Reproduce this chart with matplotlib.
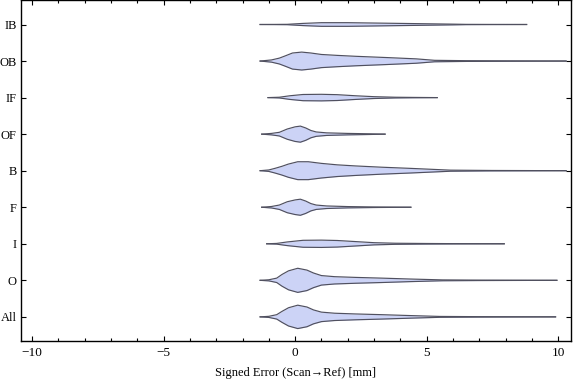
import numpy as np
import matplotlib
matplotlib.use("Agg")
import matplotlib.pyplot as plt
from matplotlib.ticker import MultipleLocator

plt.rcParams['font.family'] = ['Liberation Serif', 'DejaVu Serif']

# categories, bottom to top
categories = ['All', 'O', 'I', 'F', 'B', 'OF', 'IF', 'OB', 'IB']

# violin profiles: x position [mm] and half width (in category units)
all_x = [-1.33, -1.0, -0.7, -0.5, -0.25, 0.1, 0.45, 0.7, 1.0, 1.5, 2.3, 3.3, 4.4, 5.5, 7.0, 9.9]
all_w = [0.0, 0.015, 0.06, 0.15, 0.25, 0.32, 0.27, 0.19, 0.13, 0.1, 0.08, 0.06, 0.035, 0.012, 0.006, 0.0]

o_x = [-1.33, -1.0, -0.7, -0.5, -0.25, 0.1, 0.45, 0.7, 1.0, 1.5, 2.3, 3.3, 4.4, 5.6, 7.0, 9.95]
o_w = [0.0, 0.015, 0.06, 0.16, 0.26, 0.33, 0.28, 0.2, 0.13, 0.1, 0.08, 0.06, 0.035, 0.012, 0.006, 0.0]

i_x = [-1.08, -0.7, -0.3, 0.3, 1.0, 1.6, 2.3, 3.0, 3.8, 5.0, 6.0, 7.95]
i_w = [0.0, 0.01, 0.05, 0.095, 0.1, 0.09, 0.06, 0.03, 0.015, 0.008, 0.004, 0.0]

f_x = [-1.27, -0.9, -0.6, -0.3, 0.0, 0.2, 0.4, 0.6, 0.8, 1.2, 2.0, 3.0, 4.4]
f_w = [0.0, 0.02, 0.06, 0.15, 0.2, 0.22, 0.17, 0.1, 0.06, 0.035, 0.018, 0.008, 0.0]

b_x = [-1.33, -1.0, -0.76, -0.5, -0.26, 0.1, 0.5, 1.0, 1.6, 2.3, 3.3, 4.4, 5.9, 7.5, 10.3]
b_w = [0.0, 0.02, 0.065, 0.12, 0.18, 0.245, 0.245, 0.2, 0.16, 0.13, 0.095, 0.063, 0.015, 0.006, 0.0]

of_x = [-1.27, -0.9, -0.6, -0.3, 0.0, 0.2, 0.4, 0.6, 0.8, 1.2, 2.0, 2.8, 3.42]
of_w = [0.0, 0.02, 0.05, 0.14, 0.2, 0.22, 0.17, 0.1, 0.06, 0.035, 0.02, 0.01, 0.0]

if_x = [-1.03, -0.6, -0.2, 0.3, 1.0, 1.6, 2.3, 3.0, 3.8, 4.5, 5.4]
if_w = [0.0, 0.01, 0.05, 0.085, 0.09, 0.08, 0.05, 0.025, 0.01, 0.005, 0.0]

ob_x = [-1.33, -0.9, -0.6, -0.38, -0.1, 0.25, 0.6, 1.0, 1.6, 2.3, 3.5, 4.6, 5.3, 6.5, 10.3]
ob_w = [0.0, 0.03, 0.08, 0.14, 0.22, 0.245, 0.22, 0.18, 0.155, 0.13, 0.095, 0.06, 0.02, 0.01, 0.0]

ib_x = [-1.33, -0.3, 0.3, 1.0, 2.0, 3.0, 4.5, 6.0, 6.5, 8.8]
ib_w = [0.0, 0.005, 0.03, 0.05, 0.05, 0.04, 0.025, 0.01, 0.004, 0.0]

profiles = [(all_x, all_w), (o_x, o_w), (i_x, i_w), (f_x, f_w), (b_x, b_w),
            (of_x, of_w), (if_x, if_w), (ob_x, ob_w), (ib_x, ib_w)]

fill_col = '#ccd3f6'
edge_col = '#50505f'

fig = plt.figure(figsize=(5.76, 3.81), dpi=100)
ax = fig.add_axes([0.036, 0.105, 0.955, 0.894])

for k, (xs, ws) in enumerate(profiles):
    pos = k + 1
    xs = np.array(xs)
    ws = np.array(ws)
    ax.fill_between(xs, pos - ws, pos + ws, color=fill_col, lw=0)
    ax.plot(xs, pos + ws, color=edge_col, lw=0.85)
    ax.plot(xs, pos - ws, color=edge_col, lw=0.85)

ax.set_xlim(-10.43, 10.48)
ax.set_ylim(0.34, 9.66)
ax.set_yticks(range(1, len(categories) + 1))
ax.set_yticklabels(categories)
ax.set_xticks([-10, -5, 0, 5, 10])
ax.set_xticklabels(['\u221210', '\u22125', '0', '5', '10'])
ax.xaxis.set_minor_locator(MultipleLocator(1))

ax.tick_params(axis='both', which='both', direction='in', top=True, right=True,
               colors='black')
ax.tick_params(axis='x', which='major', length=3.5, width=0.8, pad=4, labelsize=9.5)
ax.tick_params(axis='x', which='minor', length=2, width=0.8)
ax.tick_params(axis='y', which='major', length=3.5, width=0.8, pad=3, labelsize=9)
for s in ax.spines.values():
    s.set_linewidth(1.0)

ax.set_xlabel('Signed Error (Scan\u2192Ref) [mm]', fontsize=9, labelpad=6)

fig.savefig('out.png', dpi=100)
